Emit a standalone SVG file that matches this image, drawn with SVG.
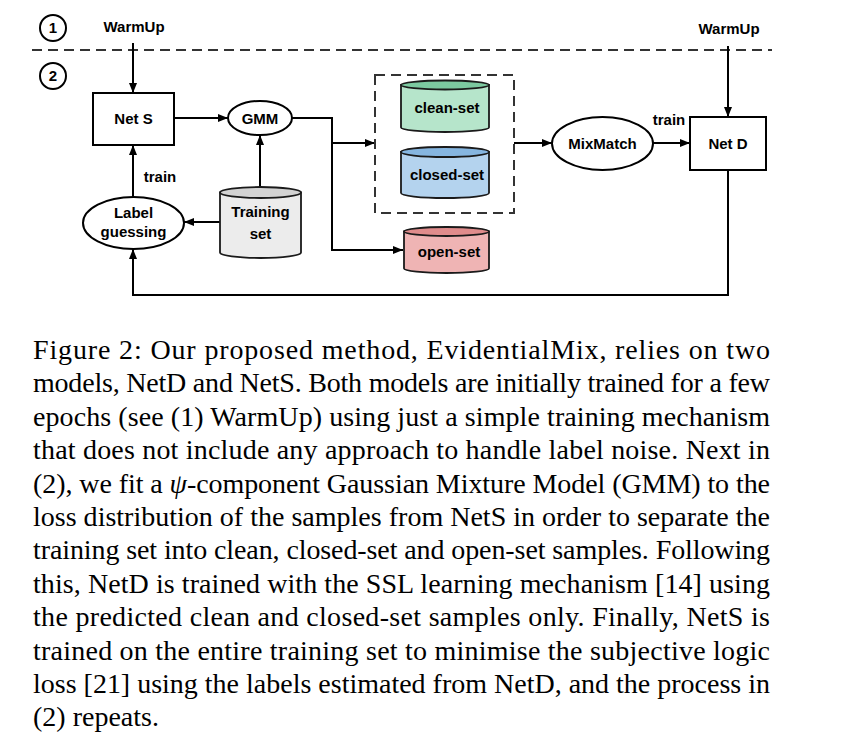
<svg xmlns="http://www.w3.org/2000/svg" width="846" height="747" viewBox="0 0 846 747">
<defs>
<marker id="arr" viewBox="0 0 10 8" refX="10" refY="4" markerWidth="10" markerHeight="8" markerUnits="userSpaceOnUse" orient="auto">
<path d="M0,0 L10,4 L0,8 Z" fill="#000"/>
</marker>
</defs>
<style>
.lbl{font-family:"Liberation Sans",Arial,sans-serif;font-weight:bold;font-size:15px;fill:#000;text-anchor:middle}
.sh{fill:#fff;stroke:#000;stroke-width:2}
.cyl{stroke:#1a1a1a;stroke-width:1.8}
.con{fill:none;stroke:#000;stroke-width:2;marker-end:url(#arr)}
.dash{fill:none;stroke:#333;stroke-width:2;stroke-dasharray:10,6}
.cap{font-family:"Liberation Serif","Times New Roman",serif;font-size:28px;fill:#000}
</style>
<rect width="846" height="747" fill="#fff"/>

<g id="phases">
<line class="dash" x1="32" y1="50" x2="772" y2="50"/>
<circle cx="53" cy="28" r="13" fill="#fff" stroke="#000" stroke-width="2"/>
<text class="lbl" x="53" y="33">1</text>
<circle cx="53" cy="76" r="13" fill="#fff" stroke="#000" stroke-width="2"/>
<text class="lbl" x="53" y="81">2</text>
<text class="lbl" x="134" y="32">WarmUp</text>
<text class="lbl" x="729" y="34">WarmUp</text>
</g>

<g id="connectors">
<path class="con" d="M133,43 L133,93"/>
<path class="con" d="M174,118 L228,118"/>
<path class="con" d="M292,118 L332,118 L332,143 L375,143"/>
<path class="con" d="M332,143 L332,250 L403,250"/>
<path class="con" d="M514,143 L552,143"/>
<path class="con" d="M653,143 L690,143"/>
<path class="con" d="M728,46 L728,117"/>
<path class="con" d="M728,170 L728,295 L133,295 L133,249"/>
<path class="con" d="M133,197 L133,145"/>
<path class="con" d="M260,187 L260,135"/>
<path class="con" d="M220,222 L184,222"/>
<text class="lbl" x="160" y="182">train</text>
<text class="lbl" x="669" y="125">train</text>
</g>

<g id="netS">
<rect class="sh" x="93" y="93" width="81" height="52"/>
<text class="lbl" x="133.5" y="124">Net S</text>
</g>

<g id="gmm">
<ellipse class="sh" cx="260" cy="118" rx="32" ry="17"/>
<text class="lbl" x="260" y="124">GMM</text>
</g>

<g id="selectedBox">
<rect class="dash" x="375" y="75" width="139" height="138"/>
</g>

<g id="cleanSet">
<path class="cyl" fill="#b6e5cb" d="M401,85 L401,127.5 A44,4.5 0 0 0 489,127.5 L489,85 Z"/>
<ellipse class="cyl" fill="#7cc9a0" cx="445" cy="85" rx="44" ry="4.5"/>
<text class="lbl" x="447" y="113">clean-set</text>
</g>

<g id="closedSet">
<path class="cyl" fill="#b4d3ee" d="M401,152 L401,193 A44,5 0 0 0 489,193 L489,152 Z"/>
<ellipse class="cyl" fill="#86b6e0" cx="445" cy="152" rx="44" ry="5"/>
<text class="lbl" x="447" y="180">closed-set</text>
</g>

<g id="openSet">
<path class="cyl" fill="#efb4b4" d="M404,231.5 L404,268.5 A42.5,4.5 0 0 0 489,268.5 L489,231.5 Z"/>
<ellipse class="cyl" fill="#e08c8c" cx="446.5" cy="231.5" rx="42.5" ry="4.5"/>
<text class="lbl" x="449" y="257">open-set</text>
</g>

<g id="trainingSet">
<path class="cyl" fill="#ececec" d="M220,192.5 L220,252.5 A40.5,5.5 0 0 0 301,252.5 L301,192.5 Z"/>
<ellipse class="cyl" fill="#d3d3d3" cx="260.5" cy="192.5" rx="40.5" ry="5.5"/>
<text class="lbl" x="260.5" y="217">Training</text>
<text class="lbl" x="260.5" y="239">set</text>
</g>

<g id="labelGuessing">
<ellipse class="sh" cx="133.5" cy="223" rx="50.5" ry="26"/>
<text class="lbl" x="133.5" y="218">Label</text>
<text class="lbl" x="133.5" y="237">guessing</text>
</g>

<g id="mixMatch">
<ellipse class="sh" cx="602.5" cy="143.5" rx="50.5" ry="26.5"/>
<text class="lbl" x="602.5" y="149">MixMatch</text>
</g>

<g id="netD">
<rect class="sh" x="690" y="117" width="76" height="53"/>
<text class="lbl" x="728" y="149">Net D</text>
</g>

<g id="caption">
<text class="cap" x="33" y="359" textLength="737" lengthAdjust="spacing">Figure 2:  Our proposed method, EvidentialMix, relies on two</text>
<text class="cap" x="33" y="392.4" textLength="737" lengthAdjust="spacing">models, NetD and NetS. Both models are initially trained for a few</text>
<text class="cap" x="33" y="425.8" textLength="737" lengthAdjust="spacing">epochs (see (1) WarmUp) using just a simple training mechanism</text>
<text class="cap" x="33" y="459.2" textLength="737" lengthAdjust="spacing">that does not include any approach to handle label noise.  Next in</text>
<text class="cap" x="33" y="492.6" textLength="737" lengthAdjust="spacing">(2), we fit a <tspan font-style="italic">ψ</tspan>-component Gaussian Mixture Model (GMM) to the</text>
<text class="cap" x="33" y="526" textLength="737" lengthAdjust="spacing">loss distribution of the samples from NetS in order to separate the</text>
<text class="cap" x="33" y="559.4" textLength="737" lengthAdjust="spacing">training set into clean, closed-set and open-set samples. Following</text>
<text class="cap" x="33" y="592.8" textLength="737" lengthAdjust="spacing">this, NetD is trained with the SSL learning mechanism [14] using</text>
<text class="cap" x="33" y="626.2" textLength="737" lengthAdjust="spacing">the predicted clean and closed-set samples only.  Finally, NetS is</text>
<text class="cap" x="33" y="659.6" textLength="737" lengthAdjust="spacing">trained on the entire training set to minimise the subjective logic</text>
<text class="cap" x="33" y="693" textLength="737" lengthAdjust="spacing">loss [21] using the labels estimated from NetD, and the process in</text>
<text class="cap" x="33" y="726.4">(2) repeats.</text>
</g>
</svg>
